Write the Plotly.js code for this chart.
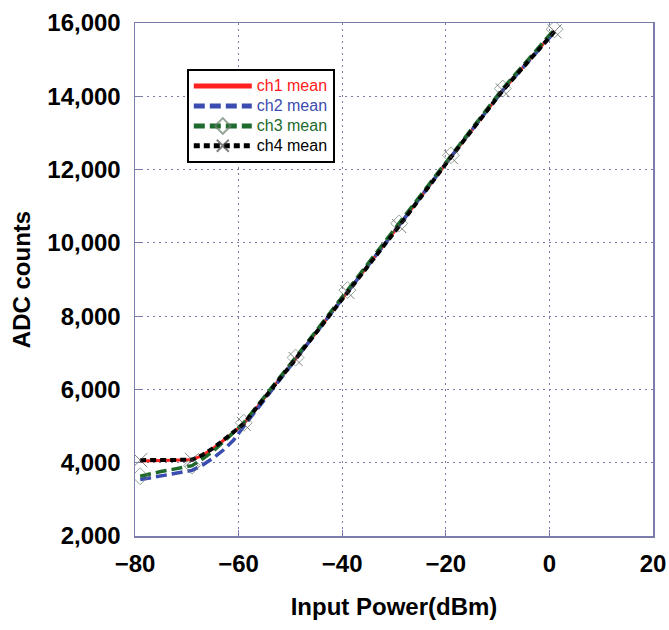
<!DOCTYPE html>
<html>
<head>
<meta charset="utf-8">
<script src="https://cdn.plot.ly/plotly-3.0.1.min.js"></script>
<style>
  html, body { margin: 0; padding: 0; background: #fff; }
  #chart { width: 669px; height: 630px; }
</style>
</head>
<body>
<div id="chart"></div>
<script>
// Input power (dBm)
var inputPower = [-79, -77, -75, -73, -71, -69, -67, -65, -63, -61, -59, -49, -39, -29, -19, -9, 1];
// Points where the markers are shown
var markerPower = [-79, -69, -59, -49, -39, -29, -19, -9, 1];

// ADC counts per channel (mean)
var ch1Mean = [4050, 4055, 4060, 4065, 4070, 4080, 4200, 4380, 4600, 4830, 5060, 6830, 8650, 10480, 12340, 14160, 15780];
var ch2Mean = [3540, 3590, 3640, 3690, 3740, 3790, 3930, 4120, 4340, 4610, 4990, 6820, 8660, 10480, 12350, 14160, 15760];
var ch3Mean = [3630, 3700, 3760, 3810, 3860, 3920, 4100, 4300, 4560, 4830, 5090, 6870, 8710, 10530, 12390, 14210, 15830];
var ch4Mean = [4070, 4072, 4074, 4076, 4078, 4080, 4210, 4390, 4610, 4840, 5060, 6830, 8660, 10460, 12340, 14160, 15770];

var seriesNames = ['ch1 mean', 'ch2 mean', 'ch3 mean', 'ch4 mean'];
var seriesColors = ['#ff2020', '#3a4cb0', '#1d6a2c', '#000000'];

var FONT = 'Liberation Sans, Arial, Helvetica, sans-serif';

function markerSizes(sz) {
  return inputPower.map(function (p) { return markerPower.indexOf(p) >= 0 ? sz : 0; });
}
function legendName(i) {
  return '<span style="font-size:16px;color:' + seriesColors[i] + '">' + seriesNames[i] + '</span>';
}

var traces = [
  {
    x: inputPower, y: ch1Mean, type: 'scatter', mode: 'lines',
    name: legendName(0),
    line: { color: seriesColors[0], width: 3 }
  },
  {
    x: inputPower, y: ch2Mean, type: 'scatter', mode: 'lines',
    name: legendName(1),
    line: { color: seriesColors[1], width: 3.5, dash: '11px,5px' }
  },
  {
    x: inputPower, y: ch3Mean, type: 'scatter', mode: 'lines+markers',
    name: legendName(2),
    line: { color: seriesColors[2], width: 3.5, dash: '11px,5px' },
    marker: { symbol: 'diamond-open', size: markerSizes(13), color: '#6a826d', line: { width: 1, color: '#6a826d' } }
  },
  {
    x: inputPower, y: ch4Mean, type: 'scatter', mode: 'lines+markers',
    name: legendName(3),
    line: { color: seriesColors[3], width: 4, dash: '6px,4px' },
    marker: { symbol: 'x-thin-open', size: markerSizes(14), color: '#4a4a4a', line: { width: 1, color: '#4a4a4a' } }
  }
];

var axisColor = '#7c7caa';

var layout = {
  width: 669, height: 630,
  margin: { l: 135, r: 16, t: 23, b: 94 },
  paper_bgcolor: '#ffffff', plot_bgcolor: '#ffffff',
  font: { family: FONT, color: '#000' },
  showlegend: true,
  legend: {
    x: 0.1, y: 0.91, xanchor: 'left', yanchor: 'top',
    bgcolor: '#ffffff', bordercolor: '#000000', borderwidth: 2,
    font: { family: FONT, size: 13, color: '#000' },
    itemwidth: 58, itemsizing: 'constant', tracegroupgap: 0
  },
  xaxis: {
    range: [-80, 20], dtick: 20, tick0: -80,
    showgrid: true, gridcolor: axisColor, griddash: '2px,4px', gridwidth: 1,
    zeroline: false,
    showline: true, linecolor: axisColor, linewidth: 1.5, mirror: true,
    ticks: 'inside', ticklen: 6, tickcolor: axisColor,
    tickfont: { family: FONT, size: 24, color: '#000', weight: 'bold' },
    ticklabelstandoff: 6,
    title: { text: 'Input Power(dBm)', font: { family: FONT, size: 24, color: '#000', weight: 'bold' }, standoff: 22 }
  },
  yaxis: {
    range: [2000, 16000], dtick: 2000, tick0: 2000,
    tickformat: ',d',
    showgrid: true, gridcolor: axisColor, griddash: '2px,4px', gridwidth: 1,
    zeroline: false,
    showline: true, linecolor: axisColor, linewidth: 1.5, mirror: true,
    ticks: 'inside', ticklen: 6, tickcolor: axisColor,
    tickfont: { family: FONT, size: 24, color: '#000', weight: 'bold' },
    ticklabelstandoff: 8,
    title: { text: 'ADC counts', font: { family: FONT, size: 24, color: '#000', weight: 'bold' }, standoff: 10 }
  }
};

Plotly.newPlot('chart', traces, layout, { displayModeBar: false, staticPlot: true });
</script>
</body>
</html>
